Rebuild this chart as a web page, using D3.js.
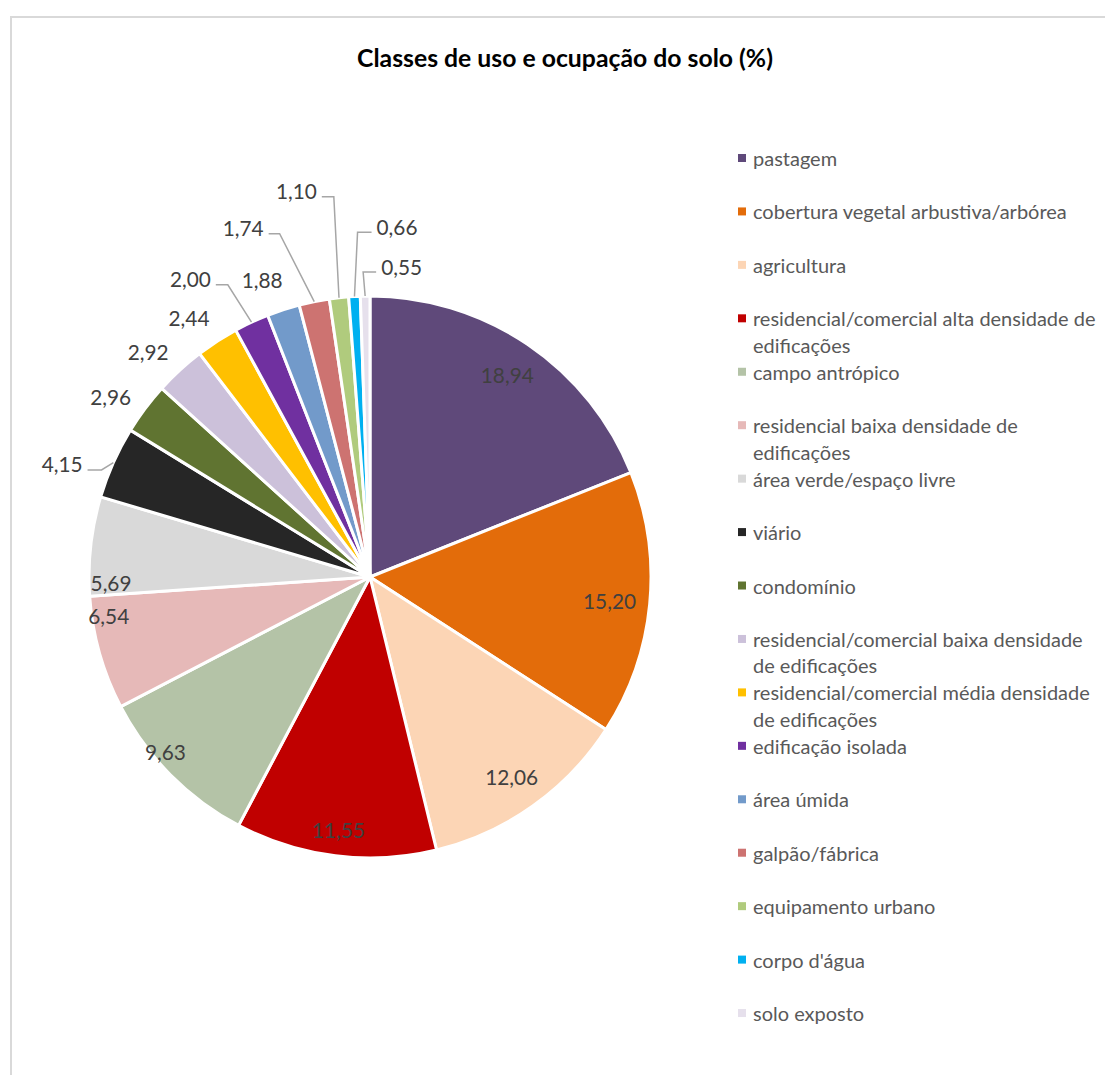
<!DOCTYPE html>
<html>
<head>
<meta charset="utf-8">
<script src="https://cdn.jsdelivr.net/npm/d3@7"></script>
<style>
  html, body { margin: 0; padding: 0; background: #fff; }
  svg { display: block; }
</style>
</head>
<body>
<svg id="chart" width="1105" height="1075"></svg>
<script>
// ---- data ----
const title = "Classes de uso e ocupação do solo (%)";

const categories = [
  "pastagem",
  "cobertura vegetal arbustiva/arbórea",
  "agricultura",
  "residencial/comercial alta densidade de edificações",
  "campo antrópico",
  "residencial baixa densidade de edificações",
  "área verde/espaço livre",
  "viário",
  "condomínio",
  "residencial/comercial baixa densidade de edificações",
  "residencial/comercial média densidade de edificações",
  "edificação isolada",
  "área úmida",
  "galpão/fábrica",
  "equipamento urbano",
  "corpo d'água",
  "solo exposto"
];

const values = [18.94, 15.20, 12.06, 11.55, 9.63, 6.54, 5.69, 4.15, 2.96, 2.92, 2.44, 2.00, 1.88, 1.74, 1.10, 0.66, 0.55];

// ---- styling ----
const palette = [
  "#5f497a", "#e36c0a", "#fcd5b5", "#c00000", "#b4c3a7", "#e6b9b8",
  "#d9d9d9", "#262626", "#607431", "#ccc1da", "#ffc000", "#7030a0",
  "#729aca", "#cd7371", "#b0cb7d", "#00b0f0", "#e6e0ec"
];
const FONT = "Lato, 'Open Sans', sans-serif";
const labelColor = "#404040";
const legendColor = "#595959";
const leaderColor = "#a6a6a6";

const svg = d3.select("#chart");

// measure helpers
function fitSize(text, target, weight) {
  const t = svg.append("text")
    .attr("font-family", FONT).attr("font-weight", weight || "normal")
    .attr("font-size", 100).text(text);
  const w = t.node().getComputedTextLength();
  t.remove();
  return 100 * target / w;
}
function textWidth(text, size, weight) {
  const t = svg.append("text")
    .attr("font-family", FONT).attr("font-weight", weight || "normal")
    .attr("font-size", size).text(text);
  const w = t.node().getComputedTextLength();
  t.remove();
  return w;
}

const titleSize = fitSize(title, 416, "bold");
const labelSize = fitSize("18,94", 53);
const legendSize = fitSize("cobertura vegetal arbustiva/arbórea", 314);

// chart frame
svg.append("rect")
  .attr("x", 11).attr("y", 17)
  .attr("width", 1200).attr("height", 1200)
  .attr("fill", "#fff")
  .attr("stroke", "#d9d9d9").attr("stroke-width", 2);

// title
svg.append("text")
  .attr("x", 565).attr("y", 57)
  .attr("text-anchor", "middle").attr("dominant-baseline", "central")
  .attr("font-family", FONT).attr("font-weight", "bold")
  .attr("font-size", titleSize).attr("fill", "#000")
  .text(title);

// ---- pie ----
const cx = 370, cy = 577, R = 281;
const data = categories.map((c, i) => ({ category: c, value: values[i], color: palette[i] }));
const fmt = v => d3.format(".2f")(v).replace(".", ",");

const pie = d3.pie().sort(null).value(d => d.value).startAngle(0).endAngle(2 * Math.PI);
const arcs = pie(data);
const arc = d3.arc().innerRadius(0).outerRadius(R);

svg.append("g")
  .attr("transform", `translate(${cx},${cy})`)
  .selectAll("path.slice")
  .data(arcs)
  .join("path")
  .attr("class", "slice")
  .attr("d", arc)
  .attr("fill", d => d.data.color)
  .attr("stroke", "#fff")
  .attr("stroke-width", 3)
  .attr("stroke-linejoin", "round");

const polar = (rad, ang) => [cx + rad * Math.sin(ang), cy - rad * Math.cos(ang)];
const deg = Math.PI / 180;

// mid-size slices whose label sits near the rim, nudged along the arc
const insideLayout = {
  "campo antrópico":                            { d: 269, da:  4.3 },
  "residencial baixa densidade de edificações": { d: 264, da:  7.4 },
  "área verde/espaço livre":                    { d: 259, da: -7.5 }
};

// labels that sit off the pie on a leader line: elbow radius and angular nudge
const leaderLayout = {
  "viário":             { r: 289, da: -2.3, side: -1, seg: 14 },
  "edificação isolada": { r: 325, da: -1.0, side: -1, seg: 12 },
  "galpão/fábrica":     { r: 355, da: -3.3, side: -1, seg: 11 },
  "equipamento urbano": { r: 382, da:  0.9, side: -1, seg: 12 },
  "corpo d'água":       { r: 345, da:  1.1, side:  1, seg: 14 },
  "solo exposto":       { r: 305, da: -0.3, side:  1, seg: 13 }
};

const labelG = svg.append("g")
  .attr("font-family", FONT).attr("font-size", labelSize).attr("fill", labelColor);

arcs.forEach(a => {
  const mid = (a.startAngle + a.endAngle) / 2;
  const txt = fmt(a.data.value);
  const w = textWidth(txt, labelSize), h = labelSize * 0.95;
  const lay = leaderLayout[a.data.category];
  const inl = insideLayout[a.data.category];
  if (a.data.value >= 5) {
    let x, y;
    if (inl) {
      [x, y] = polar(inl.d, mid + inl.da * deg);
    } else {
      // pulled in so the label box clears the rim
      const ext = (w / 2) * Math.abs(Math.sin(mid)) + (h / 2) * Math.abs(Math.cos(mid));
      [x, y] = polar(R - 13 - ext, mid);
    }
    labelG.append("text").attr("x", x).attr("y", y)
      .attr("text-anchor", "middle").attr("dominant-baseline", "central").text(txt);
  } else if (lay) {
    const edge = polar(R, mid);
    const elbow = polar(lay.r, mid + lay.da * deg);
    const end = [elbow[0] + lay.side * lay.seg, elbow[1]];
    svg.append("polyline")
      .attr("points", [edge, elbow, end].map(p => p.join(",")).join(" "))
      .attr("fill", "none").attr("stroke", leaderColor).attr("stroke-width", 1.5);
    labelG.append("text")
      .attr("x", end[0] + lay.side * 5).attr("y", elbow[1] - 6)
      .attr("text-anchor", lay.side < 0 ? "end" : "start")
      .attr("dominant-baseline", "central").text(txt);
  } else {
    const [x, y] = polar(316, mid - 2 * deg);
    labelG.append("text").attr("x", x).attr("y", y)
      .attr("text-anchor", "middle").attr("dominant-baseline", "central").text(txt);
  }
});

// ---- legend ----
const legendX = 738, legendTop = 158, legendStep = 53.44, lineStep = 26.5, wrapWidth = 350;
function wrap(text) {
  const words = text.split(" ");
  const lines = [];
  let cur = "";
  words.forEach(wd => {
    const test = cur ? cur + " " + wd : wd;
    if (cur && textWidth(test, legendSize) > wrapWidth) { lines.push(cur); cur = wd; }
    else cur = test;
  });
  lines.push(cur);
  return lines;
}

const legend = svg.append("g")
  .attr("font-family", FONT).attr("font-size", legendSize).attr("fill", legendColor);

data.forEach((d, i) => {
  const y = legendTop + i * legendStep;
  legend.append("rect")
    .attr("x", legendX).attr("y", y - 4)
    .attr("width", 8).attr("height", 8)
    .attr("fill", d.color);
  const t = legend.append("text")
    .attr("x", legendX + 15).attr("y", y)
    .attr("dominant-baseline", "central");
  wrap(d.category).forEach((ln, k) => {
    t.append("tspan").attr("x", legendX + 15).attr("y", y + k * lineStep).text(ln);
  });
});
</script>
</body>
</html>
